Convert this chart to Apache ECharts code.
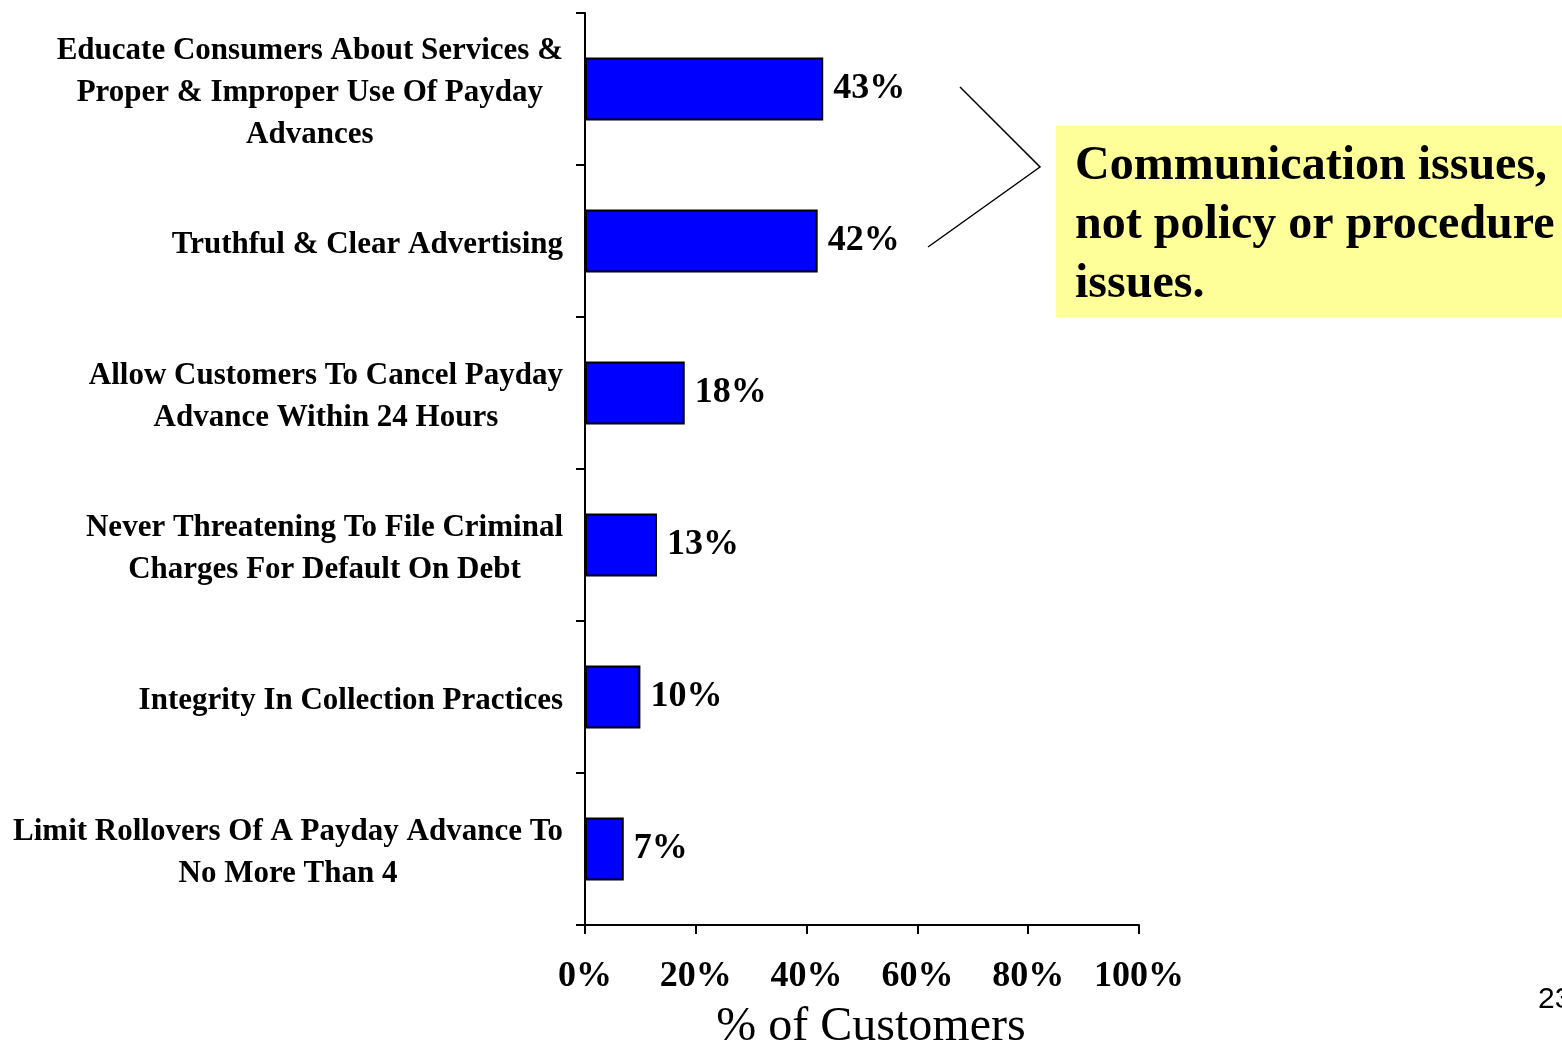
<!DOCTYPE html>
<html>
<head>
<meta charset="utf-8">
<script src="https://cdn.jsdelivr.net/npm/echarts@6/dist/echarts.min.js"></script>
<style>
  html, body { margin: 0; padding: 0; background: #fff; overflow: hidden; }
  #chart { width: 1562px; height: 1042px; }
</style>
</head>
<body>
<div id="chart"></div>
<script>
// Survey items, top to bottom (lines split where the label wraps)
const categories = [
  ['Educate Consumers About Services &', 'Proper & Improper Use Of Payday', 'Advances'],
  ['Truthful & Clear Advertising'],
  ['Allow Customers To Cancel Payday', 'Advance Within 24 Hours'],
  ['Never Threatening To File Criminal', 'Charges For Default On Debt'],
  ['Integrity In Collection Practices'],
  ['Limit Rollovers Of A Payday Advance To', 'No More Than 4']
];
// Share of customers, percent
const values = [43, 42, 18, 13, 10, 7];
const xTicks = [0, 20, 40, 60, 80, 100];
const axisTitle = '% of Customers';
const calloutLines = ['Communication issues,', 'not policy or procedure', 'issues.'];
const pageNumber = '23';

const serif = '"Liberation Serif", "Times New Roman", serif';

const chart = echarts.init(document.getElementById('chart'), null, { renderer: 'canvas' });

chart.setOption({
  animation: false,
  backgroundColor: '#ffffff',
  grid: {
    left: 585, width: 554, top: 13, height: 912,
    containLabel: false,
    outerBoundsMode: 'none'
  },
  xAxis: {
    type: 'value',
    min: xTicks[0],
    max: xTicks[xTicks.length - 1],
    interval: xTicks[1] - xTicks[0],
    splitLine: { show: false },
    axisLine: { show: true, lineStyle: { color: '#000', width: 2 } },
    axisTick: { show: true, length: 9, lineStyle: { color: '#000', width: 2 } },
    axisLabel: {
      margin: 34,
      color: '#000',
      fontFamily: serif,
      fontWeight: 'bold',
      fontSize: 36,
      formatter: v => v + '%'
    },
    name: axisTitle,
    nameLocation: 'middle',
    nameGap: 78,
    nameTextStyle: { color: '#000', fontFamily: serif, fontSize: 48, padding: [0, 0, 0, 18] }
  },
  yAxis: {
    type: 'category',
    inverse: true,
    data: categories.map(c => c.join('\n')),
    axisLine: { show: true, lineStyle: { color: '#000', width: 2 } },
    axisTick: { show: true, length: 9, alignWithLabel: false, lineStyle: { color: '#000', width: 2 } },
    axisLabel: {
      margin: 22,
      align: 'right',
      padding: [7, 0, 0, 0],
      formatter: v => v.split('\n').map(l => '{c|' + l + '}').join('\n'),
      rich: {
        c: {
          align: 'center',
          color: '#000',
          fontFamily: serif,
          fontWeight: 'bold',
          fontSize: 31,
          lineHeight: 42
        }
      }
    }
  },
  series: [{
    type: 'bar',
    data: values,
    barWidth: 63,
    itemStyle: { color: '#0000ff', borderColor: '#000', borderWidth: 2 },
    label: {
      show: true,
      position: 'right',
      distance: 10,
      padding: [5, 0, 0, 0],
      formatter: p => p.value + '%',
      color: '#000',
      fontFamily: serif,
      fontWeight: 'bold',
      fontSize: 36
    }
  }],
  graphic: [
    // bracket pointing from the two top bars to the note
    {
      type: 'polyline',
      shape: { points: [[960, 87], [1040, 167], [928, 247]] },
      style: { stroke: '#000', lineWidth: 1.5, fill: null }
    },
    {
      type: 'rect',
      shape: { x: 1056, y: 126, width: 520, height: 191 },
      style: { fill: '#ffff99' }
    },
    {
      type: 'text',
      x: 1075,
      y: 137,
      style: {
        text: calloutLines.join('\n'),
        fill: '#000',
        font: 'bold 48px ' + serif,
        lineHeight: 59,
        textAlign: 'left',
        textVerticalAlign: 'top'
      }
    },
    {
      type: 'text',
      x: 1538,
      y: 1000,
      style: {
        text: pageNumber,
        fill: '#000',
        font: '30px "Liberation Sans", Arial, sans-serif',
        textAlign: 'left',
        textVerticalAlign: 'middle'
      }
    }
  ]
});
</script>
</body>
</html>
